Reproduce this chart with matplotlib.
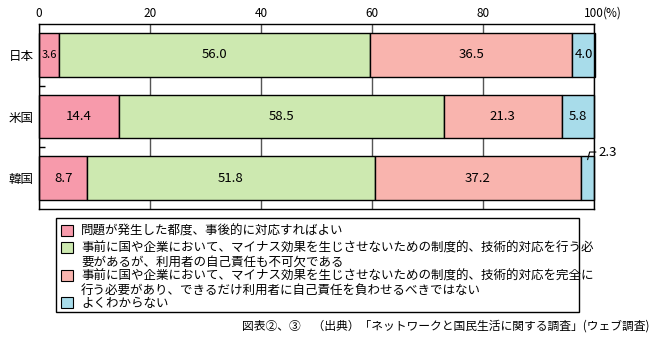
import matplotlib
matplotlib.use('Agg')
import matplotlib.pyplot as plt
from matplotlib.patches import Rectangle
import numpy as np

plt.rcParams['font.family'] = ['Noto Sans CJK JP', 'DejaVu Sans']

countries = ['日本', '米国', '韓国']
answers = [
    '問題が発生した都度、事後的に対応すればよい',
    '事前に国や企業において、マイナス効果を生じさせないための制度的、技術的対応を行う必\n要があるが、利用者の自己責任も不可欠である',
    '事前に国や企業において、マイナス効果を生じさせないための制度的、技術的対応を完全に\n行う必要があり、できるだけ利用者に自己責任を負わせるべきではない',
    'よくわからない',
]
after_only = [3.6, 14.4, 8.7]
shared_resp = [56.0, 58.5, 51.8]
full_prevent = [36.5, 21.3, 37.2]
unknown = [4.0, 5.8, 2.3]
series = [after_only, shared_resp, full_prevent, unknown]
colors = ['#f79aab', '#cde9b0', '#f9b4ae', '#a8dcea']

W, H = 655, 343
fig = plt.figure(figsize=(W / 100, H / 100), dpi=100)
ax = fig.add_axes([39 / W, 1 - 209 / H, 555 / W, 185 / H])

y = np.arange(len(countries))
left = np.zeros(len(countries))
for vals, c in zip(series, colors):
    vals = np.array(vals)
    ax.barh(y, vals, left=left, height=0.71, color=c,
            edgecolor='black', linewidth=1, zorder=2, clip_on=False)
    for yi, l, v in zip(y, left, vals):
        if v < 3:
            continue
        fs = 8 if v < 4 else 9.5
        ax.text(l + v / 2, yi, f'{v:.1f}', ha='center', va='center',
                fontsize=fs, zorder=3)
    left += vals

# small slice label with leader line
k = 2
ax.annotate(f'{unknown[k]:.1f}', xy=(100 - unknown[k] / 2, k - 0.3),
            xytext=(8, 5.5), textcoords='offset points',
            ha='left', va='center', fontsize=9.5,
            arrowprops=dict(arrowstyle='-', lw=0.8, color='black',
                            shrinkA=0, shrinkB=0, relpos=(0, 0.5),
                            connectionstyle='angle,angleA=0,angleB=75,rad=0'),
            annotation_clip=False)

ax.set_xlim(0, 100)
ax.set_ylim(2.5, -0.5)
ax.set_xticks([0, 20, 40, 60, 80, 100])
ax.set_xticklabels(['0', '20', '40', '60', '80', '100'])
ax.xaxis.tick_top()
ax.tick_params(axis='x', length=0, pad=3, labelsize=8.5)
ax.annotate('(%)', xy=(100, 1), xycoords=('data', 'axes fraction'),
            xytext=(6.5, 3), textcoords='offset points',
            ha='left', va='bottom', fontsize=8.5)
ax.set_yticks(y)
ax.set_yticklabels(countries, fontsize=9)
ax.tick_params(axis='y', length=0, pad=4)
ax.set_yticks([0.5, 1.5], minor=True)
ax.tick_params(axis='y', which='minor', direction='in', length=4, width=1)
ax.grid(axis='x', color='#555555', linewidth=1)
ax.set_axisbelow(True)
for s in ax.spines.values():
    s.set_linewidth(1)


def fx(px):
    return px / W


def fy(px):
    return 1 - px / H


# legend box
fig.patches.append(Rectangle((fx(56), fy(312)), fx(579) - fx(56), fy(218) - fy(312),
                             transform=fig.transFigure, fill=False,
                             edgecolor='black', linewidth=1))
rows = [231, 248, 276, 303]
line_gap = 14
for lab, c, ry in zip(answers, colors, rows):
    fig.patches.append(Rectangle((fx(61), fy(ry + 5)), fx(73) - fx(61), fy(ry - 6) - fy(ry + 5),
                                 transform=fig.transFigure, facecolor=c,
                                 edgecolor='black', linewidth=0.8))
    for i, line in enumerate(lab.split('\n')):
        fig.text(fx(81), fy(ry + i * line_gap), line, ha='left', va='center',
                 fontsize=9)

fig.text(fx(650), fy(326), '図表②、③　（出典）「ネットワークと国民生活に関する調査」(ウェブ調査)',
         ha='right', va='center', fontsize=8.5)

fig.savefig('out.png', dpi=100, facecolor='white')
